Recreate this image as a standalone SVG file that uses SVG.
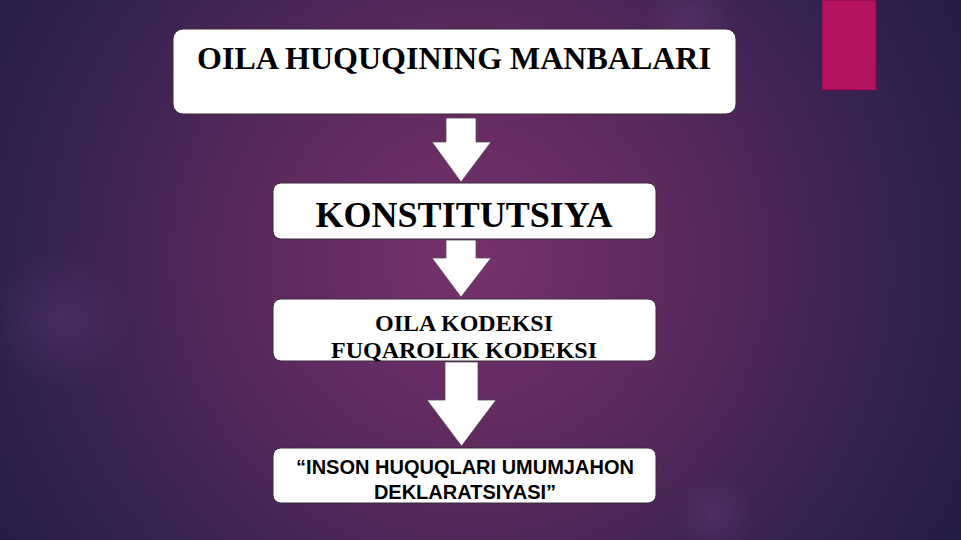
<svg xmlns="http://www.w3.org/2000/svg" width="961" height="540" viewBox="0 0 961 540">
<defs>
<radialGradient id="bg" cx="470" cy="260" r="560" gradientUnits="userSpaceOnUse">
<stop offset="0" stop-color="#76316c"/>
<stop offset="0.35" stop-color="#5e2a5e"/>
<stop offset="0.7" stop-color="#3a2352"/>
<stop offset="1" stop-color="#241c44"/>
</radialGradient>
<radialGradient id="bokeh" cx="0.5" cy="0.5" r="0.5">
<stop offset="0" stop-color="#8a5aa8" stop-opacity="0.18"/>
<stop offset="1" stop-color="#8a5aa8" stop-opacity="0"/>
</radialGradient>
<style>
.box{fill:#ffffff;stroke:#3a2a3a;stroke-width:1}
.arr{fill:#ffffff;stroke:#5a4a5a;stroke-width:0.8}
.serif{font-family:"Liberation Serif","Times New Roman",serif;font-weight:bold;fill:#000;text-anchor:middle}
.sans{font-family:"Liberation Sans",Arial,sans-serif;font-weight:bold;fill:#000;text-anchor:middle}
</style>
</defs>
<rect width="961" height="540" fill="url(#bg)"/>
<circle cx="60" cy="320" r="70" fill="url(#bokeh)"/>
<circle cx="715" cy="515" r="40" fill="url(#bokeh)"/>
<circle cx="690" cy="20" r="45" fill="url(#bokeh)"/>
<rect x="822" y="0" width="54" height="90" fill="#b5135f" stroke="#7a0d45" stroke-width="1"/>
<g id="connectors">
<polygon class="arr" points="446,118 476,118 476,142 491,142 461,182 432,142 446,142"/>
<polygon class="arr" points="446,240 476,240 476,258 491,258 461,297 432,258 446,258"/>
<polygon class="arr" points="445,362 478,362 478,400 496,400 461.5,446 427,400 445,400"/>
</g>
<g id="node1">
<rect class="box" x="173" y="29" width="563" height="85" rx="10"/>
<text class="serif" x="454" y="69" font-size="32">OILA HUQUQINING MANBALARI</text>
</g>
<g id="node2">
<rect class="box" x="273" y="183" width="383" height="56" rx="8"/>
<text class="serif" x="464" y="227" font-size="36">KONSTITUTSIYA</text>
</g>
<g id="node3">
<rect class="box" x="273" y="299" width="383" height="62" rx="8"/>
<text class="serif" x="464" y="331" font-size="24">OILA KODEKSI</text>
<text class="serif" x="464" y="358" font-size="24">FUQAROLIK KODEKSI</text>
</g>
<g id="node4">
<rect class="box" x="273" y="448" width="383" height="55" rx="8"/>
<text class="sans" x="465" y="474" font-size="20">“INSON HUQUQLARI UMUMJAHON</text>
<text class="sans" x="465" y="499" font-size="20">DEKLARATSIYASI”</text>
</g>
</svg>
